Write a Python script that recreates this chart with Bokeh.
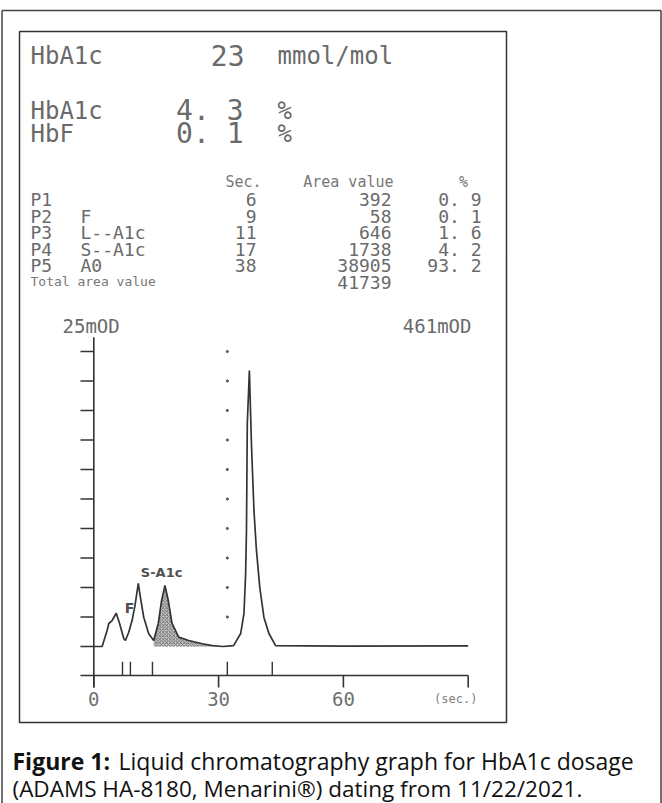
from bokeh.plotting import figure
from bokeh.models import Range1d
from bokeh.core.properties import value
from bokeh.embed import file_html
from bokeh.resources import INLINE

# ---------------- data ----------------
summary_labels = ["HbA1c", "HbA1c", "HbF"]
summary_values = ["23", "4. 3", "0. 1"]
summary_units = ["mmol/mol", "%", "%"]

peak_names = ["P1", "P2", "P3", "P4", "P5"]
peak_ids = ["", "F", "L--A1c", "S--A1c", "A0"]
peak_sec = [6, 9, 11, 17, 38]
peak_area = [392, 58, 646, 1738, 38905]
peak_pct = [0.9, 0.1, 1.6, 4.2, 93.2]
total_area = 41739

# chromatogram trace (seconds, mOD on the 25 mOD scale)
trace_sec = [0, 2.0, 3.2, 3.6, 4.4, 5.4, 6.2, 7.2, 7.6, 8.4, 9.2, 9.9, 10.7, 11.2,
             12.0, 13.2, 14.4, 15.5, 16.3, 17.1, 17.9, 18.8, 20.4, 22.8, 26.1, 28.5,
             31.0, 33.6, 35.3, 36.1, 36.5, 36.7, 36.9, 37.4, 37.9, 38.5, 39.1, 39.9,
             40.9, 42.1, 43.7, 60, 90]
trace_mod = [0, 0, 1.36, 1.95, 2.2, 2.82, 1.95, 0.68, 0.51, 1.21, 2.2, 3.47, 5.36, 4.18,
             2.48, 1.08, 0.51, 1.95, 3.9, 5.17, 3.9, 1.95, 0.79, 0.51, 0.23, 0.08,
             0.0, 0.08, 1.10, 2.80, 6.19, 9.83, 18.90, 23.39, 17.12, 11.53, 8.14, 5.00,
             2.46, 1.10, 0.08, 0.03, 0.05]
sa1c_window = [14.4, 28.5]
window_marks = [6.9, 8.8, 14.1, 32.1, 42.9]
x_ticks = [0, 30, 60, 90]
x_tick_labels = ["0", "30", "60"]
y_ticks = [0, 2.5, 5, 7.5, 10, 12.5, 15, 17.5, 20, 22.5, 25]
dot_levels = [2.5, 5, 7.5, 10, 12.5, 15, 17.5, 20, 22.5, 25]
scale_left = "25mOD"
scale_right = "461mOD"

caption_bold = "Figure 1:"
caption_rest = "Liquid chromatography graph for HbA1c dosage"
caption_line2 = "(ADAMS HA-8180, Menarini\u00ae) dating from 11/22/2021."

# ---------------- layout ----------------
W, H = 662, 803
p = figure(width=W, height=H, x_range=Range1d(0, W), y_range=Range1d(H, 0),
           output_backend="svg", toolbar_location=None, min_border=0,
           x_axis_type=None, y_axis_type=None)
p.outline_line_color = None
p.grid.visible = False
p.background_fill_color = "white"

# chart scales: seconds -> px, mOD -> px
x0_px, px_per_s = 93.3, 4.16
y0_px, px_per_mod = 646.0, 11.8
p.extra_x_ranges = {"sec": Range1d(-x0_px / px_per_s, (W - x0_px) / px_per_s)}
p.extra_y_ranges = {"mod": Range1d((y0_px - H) / px_per_mod, y0_px / px_per_mod)}
C = dict(x_range_name="sec", y_range_name="mod")

INK = "#333333"
TXT = "#6a6a6a"
MONO = value("DejaVu Sans Mono")

# outer and inner frames
p.multi_line(xs=[[1.5, 1.5], [1.5, 660.5], [660.5, 660.5]],
             ys=[[H, 10], [10, 10], [10, H]], line_color="#444444", line_width=1.5)
p.quad(left=[19], right=[506], top=[31], bottom=[722], fill_color=None,
       line_color="#333333", line_width=1.5)

# summary block
sum_y = [55, 110, 133]
p.text(x=[30] * 3, y=sum_y, text=summary_labels, text_font=MONO, text_font_size="24px",
       text_color=TXT, text_baseline="alphabetic")
p.text(x=[244, 243, 243], y=sum_y, text=summary_values, text_font=MONO,
       text_font_size="28px", text_color=TXT, text_align="right", text_baseline="alphabetic")
p.text(x=[277] * 3, y=sum_y, text=summary_units, text_font=MONO, text_font_size="24px",
       text_color=TXT, text_baseline="alphabetic")

# peak table
row_y = [199, 215.5, 232, 248.5, 265]
hdr_y = 181
TFS = "18px"
p.text(x=[261, 393, 463], y=[hdr_y] * 3, text=["Sec.", "Area value", "%"], text_font=MONO,
       text_font_size="15px", text_color="#777777", text_align=["right", "right", "center"],
       text_baseline="alphabetic")
p.text(x=[30] * 5, y=row_y, text=peak_names, text_font=MONO, text_font_size=TFS,
       text_color=TXT, text_baseline="alphabetic")
p.text(x=[80] * 5, y=row_y, text=peak_ids, text_font=MONO, text_font_size=TFS,
       text_color=TXT, text_baseline="alphabetic")
p.text(x=[256] * 5, y=row_y, text=[str(v) for v in peak_sec], text_font=MONO,
       text_font_size=TFS, text_color=TXT, text_align="right", text_baseline="alphabetic")
p.text(x=[391] * 6, y=row_y + [282], text=[str(v) for v in peak_area] + [str(total_area)],
       text_font=MONO, text_font_size=TFS, text_color=TXT, text_align="right",
       text_baseline="alphabetic")
p.text(x=[481] * 5, y=row_y, text=[f"{v:.1f}".replace(".", ". ") for v in peak_pct],
       text_font=MONO, text_font_size=TFS, text_color=TXT, text_align="right",
       text_baseline="alphabetic")
p.text(x=[30], y=[281], text=["Total area value"], text_font=MONO, text_font_size="13px",
       text_color="#777777", text_baseline="alphabetic")

# scale headings
p.text(x=[62, 471], y=[325, 325], text=[scale_left, scale_right], text_font=MONO,
       text_font_size="19px", text_color=TXT, text_align=["left", "right"],
       text_baseline="middle")

# ---------- chromatogram (in seconds / mOD) ----------
y_lo, y_hi = -3.47, 26.2
strip = -2.46
tick_left = -3.2
# y axis
p.segment(x0=[0], y0=[y_lo], x1=[0], y1=[y_hi], line_color=INK, line_width=1.6, **C)
# y ticks incl. baseline tick
p.segment(x0=[tick_left] * len(y_ticks), y0=y_ticks, x1=[0] * len(y_ticks), y1=y_ticks,
          line_color=INK, line_width=1.4, **C)
# marker strip line
p.segment(x0=[tick_left], y0=[strip], x1=[x_ticks[-1]], y1=[strip], line_color=INK,
          line_width=1.4, **C)
# x ticks
p.segment(x0=x_ticks, y0=[strip] * 4, x1=x_ticks, y1=[y_lo] * 4, line_color=INK,
          line_width=1.6, **C)
# integration window markers
p.segment(x0=window_marks, y0=[-1.3] * 5, x1=window_marks, y1=[strip] * 5,
          line_color=INK, line_width=1.4, **C)
# dotted guide
p.scatter(x=[window_marks[3]] * len(dot_levels), y=dot_levels, size=2.2,
          color="#555555", **C)

# hatched S-A1c area
hs = [s for s in trace_sec if sa1c_window[0] <= s <= sa1c_window[1]]
hm = [m for s, m in zip(trace_sec, trace_mod) if sa1c_window[0] <= s <= sa1c_window[1]]
p.varea(x=hs, y1=[0] * len(hs), y2=hm, fill_color="#b0b0b0", fill_alpha=0.7,
        hatch_pattern="x", hatch_scale=3.5, hatch_color="#444444", hatch_weight=0.7, **C)
# trace
p.line(x=trace_sec, y=trace_mod, line_color=INK, line_width=1.7, **C)

# peak labels
p.text(x=[16.3], y=[6.3], text=["S-A1c"], text_font=value("DejaVu Sans"),
       text_font_size="13px", text_font_style="bold", text_color="#505050",
       text_align="center", text_baseline="middle", **C)
p.text(x=[8.6], y=[3.3], text=["F"], text_font=value("DejaVu Sans"),
       text_font_size="14px", text_font_style="bold", text_color="#505050",
       text_align="center", text_baseline="middle", **C)

# x tick labels
p.text(x=x_ticks[:3], y=[-4.45] * 3, text=x_tick_labels, text_font=MONO,
       text_font_size="19px", text_color="#707070", text_align="center",
       text_baseline="middle", **C)
p.text(x=[87], y=[-4.45], text=["(sec.)"], text_font=MONO, text_font_size="12px",
       text_color="#808080", text_align="center", text_baseline="middle", **C)

# caption
CAP = value("Open Sans")
p.text(x=[12], y=[760], text=[caption_bold], text_font=CAP, text_font_size="23px",
       text_font_style="bold", text_color="#111111", text_baseline="alphabetic")
p.text(x=[118], y=[760], text=[caption_rest], text_font=CAP, text_font_size="23px",
       text_color="#111111", text_baseline="alphabetic")
p.text(x=[12], y=[788], text=[caption_line2], text_font=CAP, text_font_size="22.5px",
       text_color="#111111", text_baseline="alphabetic")

open("out.html", "w").write(file_html(p, INLINE))
